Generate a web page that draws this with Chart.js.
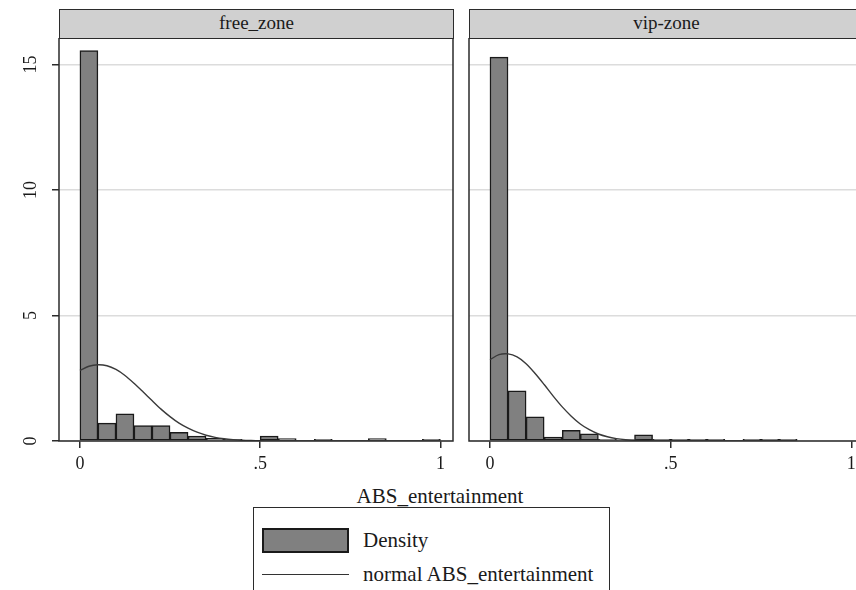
<!DOCTYPE html>
<html>
<head>
<meta charset="utf-8">
<script src="https://cdn.jsdelivr.net/npm/chart.js@4.4.1/dist/chart.umd.min.js"></script>
<style>
  html, body { margin: 0; padding: 0; background: #fff; }
  body { width: 856px; height: 590px; overflow: hidden; position: relative;
         font-family: 'Liberation Serif', 'DejaVu Serif', serif; color: #1a1a1a; }
  .strip { position: absolute; top: 9px; height: 30px; width: 395px; box-sizing: border-box;
           background: #d0d0d0; border: 1.5px solid #2b2b2b; text-align: center;
           font-size: 19px; line-height: 26px; }
  canvas { position: absolute; top: 38px; }
  #xtitle { position: absolute; left: 240px; width: 400px; top: 484px; text-align: center;
            font-size: 21px; line-height: 24px; }
  #legend { position: absolute; left: 253px; top: 507px; border: 1px solid #2b2b2b;
            padding: 15px 16px 10px 8px; font-size: 21px; background: #fff; }
  #legend .row { height: 34px; display: flex; align-items: center; white-space: nowrap; }
  #legend .swatch { width: 87px; height: 25px; box-sizing: border-box; background: #808080;
                    border: 2px solid #1a1a1a; margin-right: 14px; }
  #legend .lineswatch { width: 87px; height: 0; border-top: 1.5px solid #333; margin-right: 14px; }
</style>
</head>
<body>
<div class="strip" style="left:59px">free_zone</div>
<div class="strip" style="left:469px">vip-zone</div>
<canvas id="leftPanel" width="454" height="445" style="left:0"></canvas>
<canvas id="rightPanel" width="398" height="445" style="left:467px"></canvas>
<div id="xtitle">ABS_entertainment</div>
<div id="legend">
  <div class="row"><span class="swatch"></span><span>Density</span></div>
  <div class="row"><span class="lineswatch"></span><span>normal ABS_entertainment</span></div>
</div>
<script>
// bins of width .05 between 0 and 1
const binMids = [0.025, 0.075, 0.125, 0.175, 0.225, 0.275, 0.325, 0.375, 0.425, 0.475,
                 0.525, 0.575, 0.625, 0.675, 0.725, 0.775, 0.825, 0.875, 0.925, 0.975];
const freeDensity = [15.56, 0.71, 1.08, 0.61, 0.61, 0.35, 0.2, 0.11, 0.07, 0,
                     0.2, 0.1, 0, 0.07, 0, 0, 0.1, 0, 0, 0.07];
const vipDensity = [15.3, 2.0, 0.96, 0.16, 0.43, 0.29, 0.07, 0.05, 0.25, 0.07,
                    0.07, 0.07, 0.07, 0, 0.07, 0.07, 0.07, 0, 0, 0];

// normal curves
const freeCurveX = [0, 0.025, 0.05, 0.075, 0.1, 0.125, 0.15, 0.175, 0.2, 0.225, 0.25, 0.275, 0.3,
                    0.325, 0.35, 0.375, 0.4, 0.425, 0.45, 0.475, 0.5, 0.525, 0.55, 0.575, 0.6,
                    0.7, 0.8, 0.9, 1];
const freeCurveY = [2.81, 2.98, 3.04, 3.0, 2.85, 2.61, 2.3, 1.96, 1.61, 1.27, 0.97, 0.71, 0.51,
                    0.35, 0.23, 0.146, 0.089, 0.053, 0.03, 0.017, 0.009, 0.004, 0.002, 0.001, 0.0004,
                    0, 0, 0, 0];
const vipCurveX = [0, 0.025, 0.05, 0.075, 0.1, 0.125, 0.15, 0.175, 0.2, 0.225, 0.25, 0.275, 0.3,
                   0.325, 0.35, 0.375, 0.4, 0.425, 0.45, 0.475, 0.5, 0.6, 0.7, 0.85];
const vipCurveY = [3.24, 3.44, 3.47, 3.35, 3.08, 2.69, 2.25, 1.79, 1.36, 0.99, 0.68, 0.45, 0.28,
                   0.169, 0.096, 0.052, 0.027, 0.013, 0.006, 0.003, 0.001, 0, 0, 0];

const xTicks = [0, 0.5, 1];
const xTickLabels = ['0', '.5', '1'];
const yTicks = [0, 5, 10, 15];
const yTickLabels = ['0', '5', '10', '15'];
const xRange = [-0.058, 1.035];
const yRange = [0, 16.06];

Chart.defaults.font.family = "'Liberation Serif', 'DejaVu Serif', serif";
Chart.defaults.font.size = 18;
Chart.defaults.color = '#1a1a1a';

const frame = {
  id: 'frame',
  afterDraw(chart) {
    const { ctx, chartArea: a } = chart;
    ctx.save();
    ctx.strokeStyle = '#2b2b2b';
    ctx.lineWidth = 1.5;
    ctx.strokeRect(a.left, a.top, a.right - a.left, a.bottom - a.top);
    ctx.restore();
  }
};

function makePanel(id, density, curveX, curveY, showY) {
  new Chart(document.getElementById(id), {
    type: 'bar',
    data: {
      datasets: [{
        type: 'line',
        label: 'normal ABS_entertainment',
        data: curveX.map((x, i) => ({ x: x, y: curveY[i] })),
        borderColor: '#3a3a3a',
        borderWidth: 1.4,
        pointRadius: 0,
        tension: 0.3,
        fill: false,
        order: 0
      }, {
        label: 'Density',
        data: binMids.map((x, i) => ({ x: x, y: density[i] })),
        backgroundColor: '#808080',
        borderColor: '#1a1a1a',
        borderWidth: 1.5,
        borderSkipped: false,
        barPercentage: 1,
        categoryPercentage: 1,
        order: 1
      }]
    },
    options: {
      responsive: false,
      animation: false,
      layout: { padding: { left: 0, right: 1, top: 0, bottom: 0 } },
      plugins: { legend: { display: false }, tooltip: { enabled: false } },
      scales: {
        x: {
          type: 'linear',
          min: xRange[0],
          max: xRange[1],
          offset: false,
          afterBuildTicks: s => { s.ticks = xTicks.map(v => ({ value: v })); },
          afterFit: s => { s.height = 42; s.paddingLeft = 0; s.paddingRight = 0; },
          ticks: {
            padding: 5,
            maxRotation: 0,
            autoSkip: false,
            callback: (v, i) => xTickLabels[i]
          },
          grid: { offset: false, drawOnChartArea: false, drawTicks: true, tickLength: 7,
                  tickColor: '#2b2b2b', lineWidth: 1.5 },
          border: { display: false }
        },
        y: {
          min: yRange[0],
          max: yRange[1],
          afterBuildTicks: s => { s.ticks = yTicks.map(v => ({ value: v })); },
          afterFit: s => { s.width = showY ? 59 : 2; s.paddingTop = 0; s.paddingBottom = 0; },
          ticks: {
            display: showY,
            minRotation: 90,
            maxRotation: 90,
            crossAlign: 'center',
            padding: 12,
            callback: (v, i) => yTickLabels[i]
          },
          grid: { color: '#dcdcdc', lineWidth: 1.5, drawTicks: showY, tickLength: 7,
                  tickColor: '#2b2b2b' },
          border: { display: false }
        }
      }
    },
    plugins: [frame]
  });
}

makePanel('leftPanel', freeDensity, freeCurveX, freeCurveY, true);
makePanel('rightPanel', vipDensity, vipCurveX, vipCurveY, false);
</script>
</body>
</html>
